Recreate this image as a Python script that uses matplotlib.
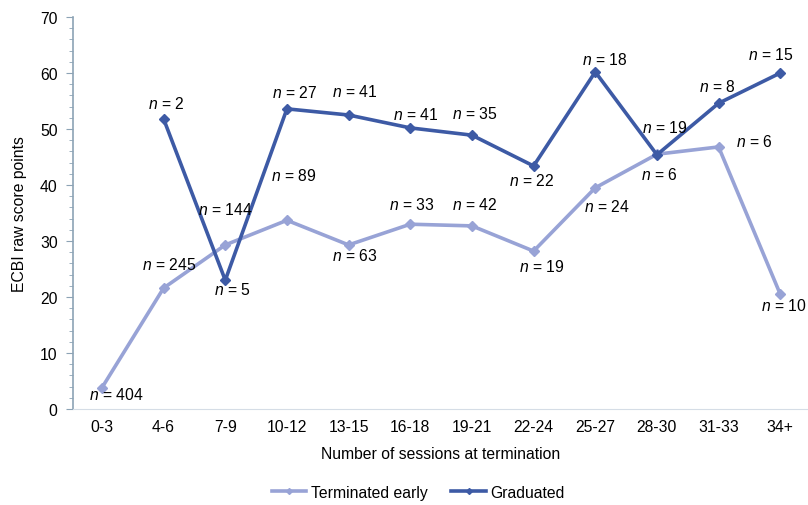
import matplotlib.pyplot as plt
from matplotlib.ticker import MultipleLocator

plt.rcParams['font.family'] = ['Liberation Sans', 'DejaVu Sans']
plt.rcParams['mathtext.fontset'] = 'custom'
plt.rcParams['mathtext.it'] = 'Liberation Sans:italic'

# --------------------------
# DATA
# --------------------------
categories = ["0-3", "4-6", "7-9", "10-12", "13-15", "16-18", "19-21",
              "22-24", "25-27", "28-30", "31-33", "34+"]
early_vals = [3.8, 21.6, 29.3, 33.7, 29.3, 33.0, 32.7, 28.2, 39.5, 45.5, 46.8, 20.5]
early_n = [404, 245, 144, 89, 63, 33, 42, 19, 24, 6, 6, 10]
grad_vals = [None, 51.8, 23.0, 53.6, 52.5, 50.2, 48.9, 43.4, 60.2, 45.4, 54.6, 60.0]
grad_n = [None, 2, 5, 27, 41, 41, 35, 22, 18, 19, 8, 15]

# label offsets in pixels (dx, dy) relative to each point
early_off = [(14, -6), (6, 24), (0, 36), (7, 45), (6, -10), (2, 20), (3, 22),
             (8, -15), (12, -18), (2, -20), (36, 6), (4, -11)]
grad_off = [None, (3, 16), (7, -9), (8, 17), (6, 24), (5, 14), (3, 22),
            (-2, -14), (9, 13), (8, 28), (-1, 17), (-9, 19)]

LIGHT = "#98a3d6"
DARK = "#3d5aa5"
FS = 11.3

fig = plt.figure(figsize=(8.08, 5.06), dpi=100)
ax = fig.add_axes([0.0903, 0.1897, 0.9097, 0.7747])

x = list(range(len(categories)))
gx = [i for i, v in zip(x, grad_vals) if v is not None]
gy = [v for v in grad_vals if v is not None]

ax.plot(x, early_vals, color=LIGHT, lw=2.6, marker="D", ms=5,
        label="Terminated early")
ax.plot(gx, gy, color=DARK, lw=2.6, marker="D", ms=5, label="Graduated")

for i, (v, n, off) in enumerate(zip(early_vals, early_n, early_off)):
    ax.annotate(f"$n$ = {n}", (i, v), xytext=off, textcoords="offset pixels",
                ha="center", va="center", fontsize=FS)
for i, (v, n, off) in enumerate(zip(grad_vals, grad_n, grad_off)):
    if v is None:
        continue
    ax.annotate(f"$n$ = {n}", (i, v), xytext=off, textcoords="offset pixels",
                ha="center", va="center", fontsize=FS)

ax.set_xlim(-0.47, 11.45)
ax.set_ylim(0, 70)
ax.set_xticks(x)
ax.set_xticklabels(categories, fontsize=FS)
ax.yaxis.set_major_locator(MultipleLocator(10))
ax.yaxis.set_minor_locator(MultipleLocator(2))
ax.tick_params(axis="x", length=0, pad=7)
ax.tick_params(axis="y", which="major", length=5, color="#8ca3b5", labelsize=FS, pad=6)
ax.tick_params(axis="y", which="minor", length=3, color="#8ca3b5")

for s in ["top", "right"]:
    ax.spines[s].set_visible(False)
ax.spines["left"].set_color("#8ca3b5")
ax.spines["left"].set_linewidth(1.2)
ax.spines["bottom"].set_color("#d5dde6")

ax.set_xlabel("Number of sessions at termination", fontsize=FS, labelpad=9)
ax.set_ylabel("ECBI raw score points", fontsize=FS, labelpad=9)

ax.legend(loc="center", bbox_to_anchor=(0.47, -0.212), ncol=2,
          frameon=False, fontsize=FS, handlelength=2.2, columnspacing=1.5,
          handletextpad=0.3, markerscale=0.6)

plt.savefig("out.png")
